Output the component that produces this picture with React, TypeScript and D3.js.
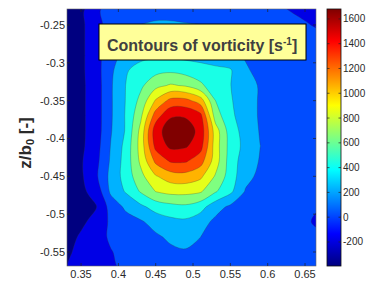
import React from 'react';
import * as d3 from 'd3';

// Grid of the measured field (x = y/b0 style horizontal coordinate, z/b0 vertical)
const X_VALUES = [0.33, 0.35, 0.37, 0.39, 0.41, 0.43, 0.45, 0.47, 0.49, 0.51, 0.53, 0.55, 0.57, 0.59, 0.61, 0.63, 0.65, 0.67];
const Y_VALUES = [-0.23, -0.25, -0.27, -0.29, -0.31, -0.33, -0.35, -0.37, -0.39, -0.41, -0.43, -0.45, -0.47, -0.49, -0.51, -0.53, -0.55, -0.57];

// Vorticity [1/s], one row per Y_VALUES entry (top to bottom), one column per X_VALUES entry
const VORTICITY = [
  [-370, -340, -120, 0, 40, 60, 70, 70, 60, 60, 50, 40, 20, 0, -40, -90, -145, -190],
  [-370, -330, -170, 20, 80, 125, 145, 145, 135, 125, 100, 80, 60, 40, 20, -20, -60, -120],
  [-370, -330, -170, 20, 145, 205, 228, 228, 205, 185, 165, 145, 110, 80, 60, 40, 20, -20],
  [-370, -330, -170, 60, 185, 270, 290, 290, 270, 250, 228, 185, 110, 80, 60, 40, 30, 20],
  [-370, -330, -170, 80, 310, 415, 475, 500, 455, 415, 375, 350, 145, 80, 60, 40, 30, 20],
  [-370, -330, -190, 100, 335, 500, 685, 770, 725, 580, 415, 335, 228, 100, 60, 40, 30, 20],
  [-370, -330, -190, 100, 340, 600, 975, 1225, 1225, 1060, 540, 350, 228, 100, 60, 40, 30, 20],
  [-370, -330, -190, 100, 350, 705, 1265, 1555, 1555, 1430, 645, 375, 228, 100, 60, 40, 30, 20],
  [-370, -330, -190, 110, 350, 810, 1495, 1680, 1680, 1515, 850, 435, 250, 110, 60, 40, 30, 20],
  [-370, -330, -170, 135, 395, 830, 1430, 1620, 1600, 1450, 850, 455, 270, 125, 60, 40, 30, 20],
  [-370, -310, -145, 155, 415, 790, 1205, 1390, 1390, 1245, 850, 435, 228, 110, 60, 40, 30, 20],
  [-370, -320, -120, 185, 415, 685, 935, 1060, 1080, 995, 725, 435, 185, 80, 60, 40, 30, 20],
  [-370, -330, -220, 165, 350, 560, 750, 810, 810, 770, 560, 375, 110, 60, 50, 40, 30, 20],
  [-370, -330, -300, 0, 165, 290, 415, 475, 500, 415, 205, 90, 40, 30, 30, 30, 0, -60],
  [-370, -320, -240, -40, 40, 100, 205, 270, 290, 205, 80, 40, 30, 30, 30, 20, 0, -200],
  [-350, -270, -145, -60, 0, 40, 90, 165, 175, 125, 60, 40, 30, 30, 20, 20, 10, 10],
  [-330, -230, -145, -90, -40, 0, 40, 80, 110, 80, 40, 30, 20, 20, 20, 20, 10, 0],
  [-300, -210, -145, -100, -60, -20, 20, 40, 60, 40, 30, 20, 20, 20, 20, 20, 10, 0],
];

const CONTOUR_LEVELS = [-290, -83, 124, 331, 539, 746, 953, 1160, 1368, 1575];
const COLOR_RANGE = [-394, 1680];

const X_TICKS = [0.35, 0.4, 0.45, 0.5, 0.55, 0.6, 0.65];
const Y_TICKS = [-0.25, -0.3, -0.35, -0.4, -0.45, -0.5, -0.55];
const CBAR_TICKS = [-200, 0, 200, 400, 600, 800, 1000, 1200, 1400, 1600];

const TITLE = 'Contours of vorticity [s';
const FONT = '"Liberation Sans", Arial, Helvetica, sans-serif';

function jet(t: number): string {
  const c = (v: number) => Math.max(0, Math.min(1, v));
  const r = c(1.5 - Math.abs(4 * t - 3));
  const g = c(1.5 - Math.abs(4 * t - 2));
  const b = c(1.5 - Math.abs(4 * t - 1));
  return d3.rgb(r * 255, g * 255, b * 255).formatHex();
}

export default function App() {
  const W = 367, H = 282;
  const P = { left: 67, right: 316, top: 9, bottom: 266 };
  const x = d3.scaleLinear().domain([0.3312, 0.6647]).range([P.left, P.right]);
  const y = d3.scaleLinear().domain([-0.5685, -0.2289]).range([P.bottom, P.top]);
  const tNorm = d3.scaleLinear().domain(COLOR_RANGE).range([0, 1]);

  const nx = X_VALUES.length, ny = Y_VALUES.length;
  const flat = VORTICITY.flat();
  const contours = d3.contours().size([nx, ny]).thresholds(CONTOUR_LEVELS)(flat);
  const dx = X_VALUES[1] - X_VALUES[0];
  const dy = Y_VALUES[1] - Y_VALUES[0];
  const toPx = (p: number[]): [number, number] => [
    x(X_VALUES[0] + (p[0] - 0.5) * dx),
    y(Y_VALUES[0] + (p[1] - 0.5) * dy),
  ];
  const line = d3.line().curve(d3.curveCatmullRomClosed.alpha(0.5));
  const pathFor = (mp: any) =>
    mp.coordinates
      .map((poly: number[][][]) =>
        poly.map((ring) => line(ring.slice(0, -1).map(toPx) as any)).join('')
      )
      .join('');

  const cb = { left: 327, right: 341, top: 9, bottom: 266 };
  const yc = d3.scaleLinear().domain(COLOR_RANGE).range([cb.bottom, cb.top]);
  const stops = d3.range(0, 65).map((i) => i / 64);

  const tickColor = '#222';

  return (
    <svg width={W} height={H} style={{ position: 'absolute', left: 0, top: 0, background: '#fff' }} fontFamily={FONT}>
      <defs>
        <clipPath id="plotClip">
          <rect x={P.left} y={P.top} width={P.right - P.left} height={P.bottom - P.top} />
        </clipPath>
        <linearGradient id="jetGrad" x1="0" y1="1" x2="0" y2="0">
          {stops.map((s) => (
            <stop key={s} offset={s} stopColor={jet(s)} />
          ))}
        </linearGradient>
      </defs>

      <g clipPath="url(#plotClip)">
        <rect x={P.left} y={P.top} width={P.right - P.left} height={P.bottom - P.top} fill={jet(0)} />
        {contours.map((c, i) => (
          <path
            key={i}
            d={pathFor(c)}
            fill={jet(tNorm(c.value) + 0.05)}
            fillRule="evenodd"
            stroke="#333"
            strokeOpacity={0.45}
            strokeWidth={0.6}
          />
        ))}
      </g>
      <rect x={P.left} y={P.top} width={P.right - P.left} height={P.bottom - P.top} fill="none" stroke="#666" strokeWidth={0.6} />

      {X_TICKS.map((t) => (
        <g key={t}>
          <line x1={x(t)} x2={x(t)} y1={P.bottom} y2={P.bottom - 3} stroke={tickColor} strokeWidth={0.7} />
          <line x1={x(t)} x2={x(t)} y1={P.top} y2={P.top + 3} stroke={tickColor} strokeWidth={0.7} />
          <text x={x(t)} y={278} textAnchor="middle" fontSize={11} fill="#2a2a2a">
            {String(t)}
          </text>
        </g>
      ))}
      {Y_TICKS.map((t) => (
        <g key={t}>
          <line x1={P.left} x2={P.left + 3} y1={y(t)} y2={y(t)} stroke={tickColor} strokeWidth={0.7} />
          <line x1={P.right} x2={P.right - 3} y1={y(t)} y2={y(t)} stroke={tickColor} strokeWidth={0.7} />
          <text x={65} y={y(t) + 4} textAnchor="end" fontSize={11} fill="#2a2a2a">
            {String(t)}
          </text>
        </g>
      ))}

      <text transform="translate(31,143) rotate(-90)" textAnchor="middle" fontSize={17} fontWeight="bold" fill="#2a2a2a">
        z/b<tspan dy={3} fontSize={11}>0</tspan>
        <tspan dy={-3}> [-]</tspan>
      </text>

      <rect x={99} y={24} width={207} height={36} fill="#ffff99" stroke="#000" strokeWidth={1} />
      <text x={107} y={50.5} fontSize={16} fontWeight="bold" fill="#404040">
        {TITLE}
        <tspan dy={-6} fontSize={10}>-1</tspan>
        <tspan dy={6}>]</tspan>
      </text>

      <rect x={cb.left} y={cb.top} width={cb.right - cb.left} height={cb.bottom - cb.top} fill="url(#jetGrad)" stroke="#111" strokeWidth={0.8} />
      {CBAR_TICKS.map((t) => (
        <g key={t}>
          <line x1={cb.right} x2={cb.right - 2.5} y1={yc(t)} y2={yc(t)} stroke={tickColor} strokeWidth={0.7} />
          <line x1={cb.left} x2={cb.left + 2.5} y1={yc(t)} y2={yc(t)} stroke={tickColor} strokeWidth={0.7} />
          <text x={343} y={yc(t) + 3.5} fontSize={10} fill="#2a2a2a">
            {String(t)}
          </text>
        </g>
      ))}
    </svg>
  );
}
